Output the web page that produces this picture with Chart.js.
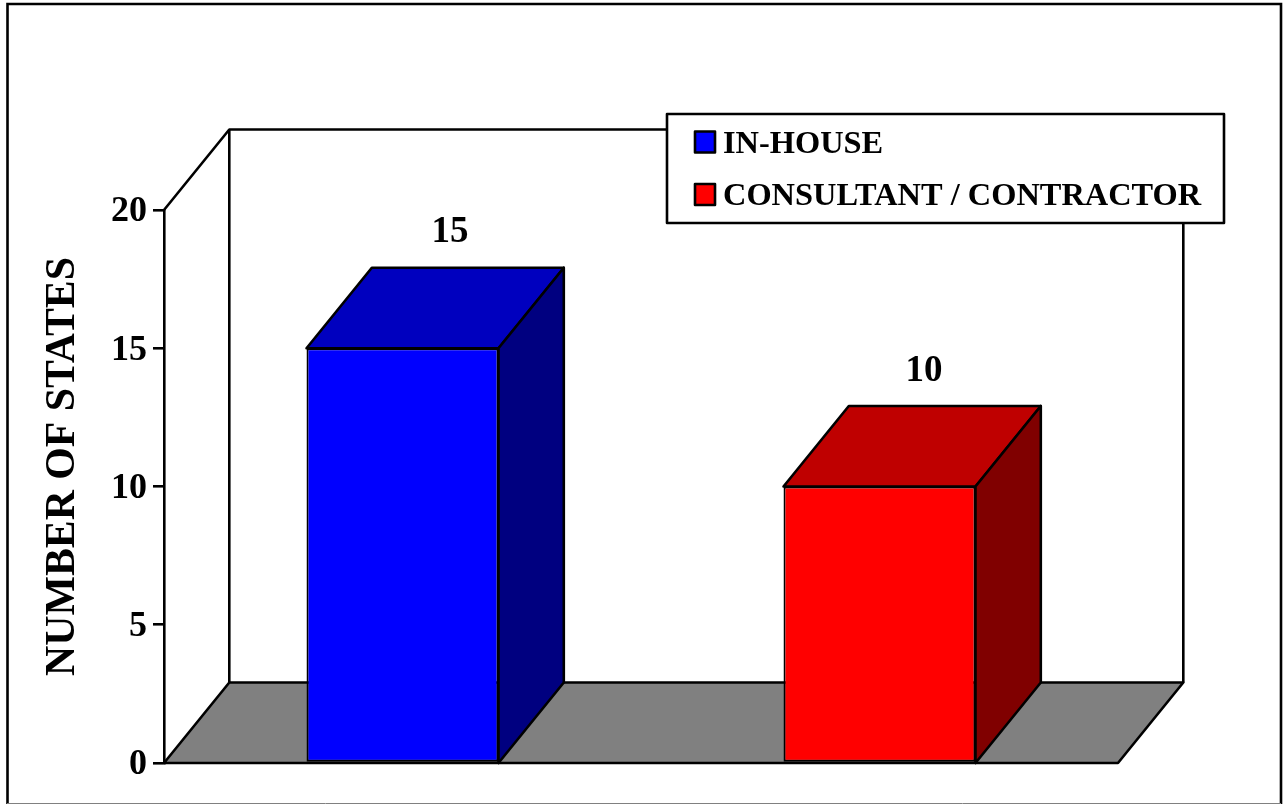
<!DOCTYPE html>
<html>
<head>
<meta charset="utf-8">
<style>html,body{margin:0;padding:0;background:#fff}canvas{display:block}#w{width:1283px;height:804px;position:relative}</style>
<script src="https://cdn.jsdelivr.net/npm/chart.js@4"></script>
</head>
<body>
<div id="w"><canvas id="c" width="1283" height="804"></canvas></div>
<script>
const categories = ['IN-HOUSE', 'CONSULTANT / CONTRACTOR'];
const values = [15, 10];
const frontColors = ['#0000FF', '#FF0000'];
const topColors = ['#0000BF', '#BF0000'];
const sideColors = ['#000080', '#800000'];
const axisTitle = 'NUMBER OF STATES';
const yTicks = [0, 5, 10, 15, 20];

const FONT = '"Liberation Serif","Times New Roman",serif';
const DX = 65.3, DY = -80.5, LW = 2.6;

function poly(ctx, pts, fill, open) {
  ctx.beginPath();
  pts.forEach((p, i) => i ? ctx.lineTo(p[0], p[1]) : ctx.moveTo(p[0], p[1]));
  if (!open) ctx.closePath();
  if (fill) { ctx.fillStyle = fill; ctx.fill(); }
  ctx.lineWidth = LW; ctx.strokeStyle = '#000'; ctx.lineJoin = 'round'; ctx.stroke();
}

const box3d = {
  id: 'box3d',
  afterLayout(chart) {
    const s = chart.scales.y, orig = s.drawTitle;
    if (s._shifted) return;
    s._shifted = true;
    s.drawTitle = function () {
      const ctx = this.ctx;
      ctx.save();
      ctx.translate(0, -20);
      orig.call(this);
      ctx.restore();
    };
  },
  beforeDraw(chart) {
    const ctx = chart.ctx;
    ctx.save();
    ctx.strokeStyle = '#000'; ctx.lineWidth = 2.6;
    ctx.beginPath();
    ctx.moveTo(7.5, 804); ctx.lineTo(7.5, 4); ctx.lineTo(1281, 4); ctx.lineTo(1281, 804);
    ctx.stroke();
    ctx.strokeStyle = '#808080'; ctx.lineWidth = 1;
    ctx.beginPath(); ctx.moveTo(7, 803.5); ctx.lineTo(1281, 803.5); ctx.stroke();
    ctx.restore();
  },
  beforeDatasetsDraw(chart) {
    const ctx = chart.ctx, a = chart.chartArea;
    const y = chart.scales.y, b = y.getPixelForValue(0), t = y.getPixelForValue(20);
    ctx.save();
    // walls
    poly(ctx, [[a.left, t], [a.left + DX, t + DY], [a.right + DX, t + DY], [a.right + DX, b + DY]], null, true);
    poly(ctx, [[a.left + DX, t + DY], [a.left + DX, b + DY]], null, true);
    // floor
    poly(ctx, [[a.left, b], [a.right, b], [a.right + DX, b + DY], [a.left + DX, b + DY]], '#808080');
    // bar depth faces
    chart.getDatasetMeta(0).data.forEach((el, i) => {
      const l = el.x - el.width / 2, r = el.x + el.width / 2;
      poly(ctx, [[l, el.y], [l + DX, el.y + DY], [r + DX, el.y + DY], [r, el.y]], topColors[i]);
      poly(ctx, [[r, el.y], [r + DX, el.y + DY], [r + DX, b + DY], [r, b]], sideColors[i]);
    });
    ctx.restore();
  },
  afterDatasetsDraw(chart) {
    const ctx = chart.ctx;
    ctx.save();
    // value labels above each bar
    ctx.fillStyle = '#000';
    ctx.font = 'bold 37px ' + FONT;
    ctx.textAlign = 'center'; ctx.textBaseline = 'alphabetic';
    const off = [47.5, 44.5];
    chart.getDatasetMeta(0).data.forEach((el, i) => {
      ctx.fillText(String(values[i]), el.x + off[i], el.y - 106);
    });
    // legend
    poly(ctx, [[667, 114], [1224, 114], [1224, 223], [667, 223]], '#fff');
    ctx.font = 'bold 32.4px ' + FONT;
    ctx.textAlign = 'left';
    const bases = [152.5, 205];
    categories.forEach((c, i) => {
      poly(ctx, [[695, bases[i] - 21], [715, bases[i] - 21], [715, bases[i]], [695, bases[i]]], frontColors[i]);
      ctx.fillStyle = '#000';
      ctx.fillText(c, 723, bases[i]);
    });
    ctx.restore();
  }
};

new Chart(document.getElementById('c'), {
  type: 'bar',
  data: {
    labels: categories,
    datasets: [{
      data: values,
      backgroundColor: frontColors,
      borderColor: '#000',
      borderWidth: 2,
      borderSkipped: false,
      barPercentage: 0.4025,
      categoryPercentage: 1
    }]
  },
  plugins: [box3d],
  options: {
    responsive: false,
    animation: false,
    layout: { padding: { left: 0, right: 165, top: 210, bottom: 41 } },
    plugins: { legend: { display: false }, tooltip: { enabled: false } },
    scales: {
      x: { display: false },
      y: {
        min: 0, max: 20,
        afterBuildTicks(s) { s.ticks = yTicks.map(v => ({ value: v })); },
        afterFit(s) { s.width = 164; },
        border: { display: true, color: '#000', width: 2.6 },
        grid: { drawOnChartArea: false, drawTicks: true, tickLength: 11, color: '#000', lineWidth: 2.6 },
        ticks: { color: '#000', font: { family: FONT, size: 36, weight: 'bold' }, padding: 6, labelOffset: 2 },
        title: { display: true, text: axisTitle, color: '#000', font: { family: FONT, size: 41.8, weight: 'bold' }, padding: { top: 38, bottom: 0 } }
      }
    }
  }
});
</script>
</body>
</html>
